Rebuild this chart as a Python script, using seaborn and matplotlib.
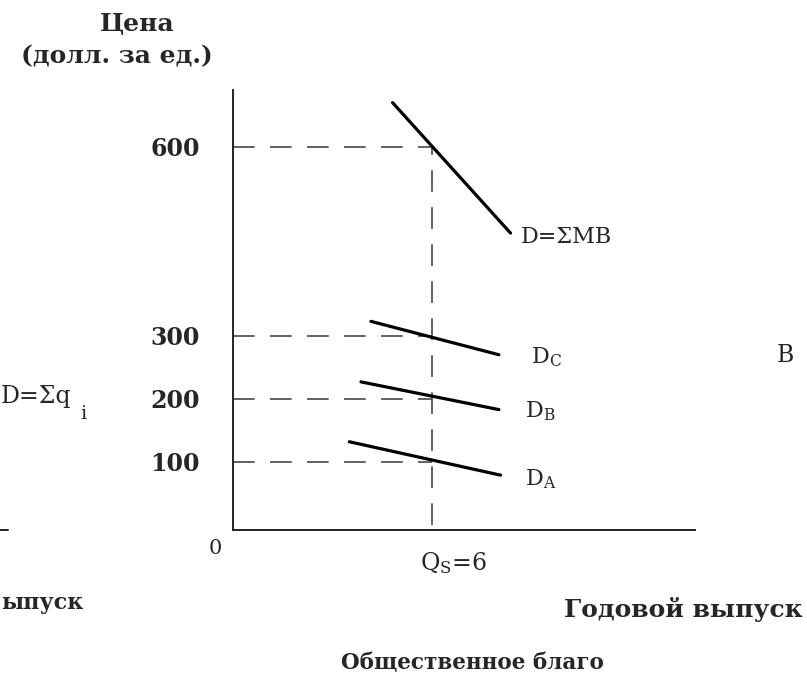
"""
Public good: vertical summation of individual demand curves D_A, D_B, D_C
into the total demand D = sum(MB) at the provided quantity Q_S = 6.
"""

import numpy as np
import pandas as pd
import seaborn as sns
import matplotlib.pyplot as plt


# =========================== DATA =====================================

# Provided quantity of the public good
q_s = 6

# Individual and total demand curves (quantity, price at each end)
q_a = [3.5, 8.05]
p_a = [132, 79]
q_b = [3.85, 8.0]
p_b = [227, 183]
q_c = [4.15, 8.0]
p_c = [323, 270]
q_sum = [4.8, 8.35]
p_sum = [670, 463]

curve_names = ['D_A', 'D_B', 'D_C', 'D_SUM']

# Prices paid by each consumer at Q_S, and their sum
price_levels = [100, 200, 300, 600]
price_labels = ['100', '200', '300', '600']

W, H = 807, 688


def fx(x):
    return x / W


def fy(y):
    return 1 - y / H


# =========================== PLOT =====================================

sns.set_style('white')
plt.rcParams['font.family'] = ['DejaVu Serif', 'DejaVu Sans']
plt.rcParams['mathtext.default'] = 'regular'

df = pd.concat([
    pd.DataFrame({'q': q, 'p': p, 'curve': name})
    for q, p, name in zip([q_a, q_b, q_c, q_sum], [p_a, p_b, p_c, p_sum],
                          curve_names)
], ignore_index=True)

fig = plt.figure(figsize=(W / 100, H / 100), dpi=100)
ax = fig.add_axes([fx(233), fy(530), fx(695) - fx(233), fy(90) - fy(530)])

# Dashed guide lines from Q_S to each price
dash = (0, (12, 8.5))
ax.hlines(price_levels, 0, q_s, colors='#555555', linestyles=dash,
          linewidth=1.3, zorder=1)
ax.vlines(q_s, 0, max(price_levels), colors='#555555', linestyles=dash,
          linewidth=1.3, zorder=1)

sns.lineplot(data=df, x='q', y='p', units='curve', estimator=None,
             color='black', linewidth=2.3, ax=ax, zorder=3)

ax.set_xlim(0, 13.9)
ax.set_ylim(-8, 690)
ax.set_xticks([])
ax.set_yticks(price_levels)
ax.set_yticklabels(price_labels, fontsize=17, fontweight='bold')
ax.tick_params(axis='y', length=0, pad=24)
ax.set_xlabel('')
ax.set_ylabel('')
sns.despine(ax=ax)
for side in ['left', 'bottom']:
    ax.spines[side].set_linewidth(1.4)
    ax.spines[side].set_color('#222222')

# Curve labels next to the right ends of the lines
labels = [('$D_A$', q_a, p_a, (24, -4)), ('$D_B$', q_b, p_b, (26, -2)),
          ('$D_C$', q_c, p_c, (32, -2)), ('D=ΣMB', q_sum, p_sum, (10, -4))]
for text, q, p, off in labels:
    ax.annotate(text, xy=(q[-1], p[-1]), xytext=off,
                textcoords='offset pixels', ha='left', va='center',
                fontsize=16)

ax.annotate('0', xy=(0, 0), xytext=(-18, -24), textcoords='offset pixels',
            ha='center', va='center', fontsize=15)
ax.annotate('$Q_S$=6', xy=(q_s, 0), xytext=(-12, -38),
            textcoords='offset pixels', ha='left', va='center', fontsize=17)

# Axis titles and caption
fig.text(fx(137), fy(24), 'Цена', ha='center', va='center', fontsize=18,
         fontweight='bold')
fig.text(fx(117), fy(56), '(долл. за ед.)', ha='center', va='center',
         fontsize=18, fontweight='bold')
fig.text(fx(803), fy(609), 'Годовой выпуск', ha='right', va='center',
         fontsize=18, fontweight='bold')
fig.text(fx(472), fy(663), 'Общественное благо', ha='center', va='center',
         fontsize=15.5, fontweight='bold')

# Parts of the neighbouring panels shown at the page edges
fig.text(fx(1), fy(397), 'D=Σq', ha='left', va='center', fontsize=17)
fig.text(fx(80), fy(414), 'i', ha='left', va='center', fontsize=14)
fig.text(fx(1), fy(603), 'ыпуск', ha='left', va='center', fontsize=16,
         fontweight='bold')
fig.text(fx(785), fy(355), 'В', ha='center', va='center', fontsize=17)
fig.add_artist(plt.Line2D([0, fx(8)], [fy(530), fy(530)], color='#222222',
                          linewidth=1.4))

fig.savefig('out.png', dpi=100, facecolor='white')
